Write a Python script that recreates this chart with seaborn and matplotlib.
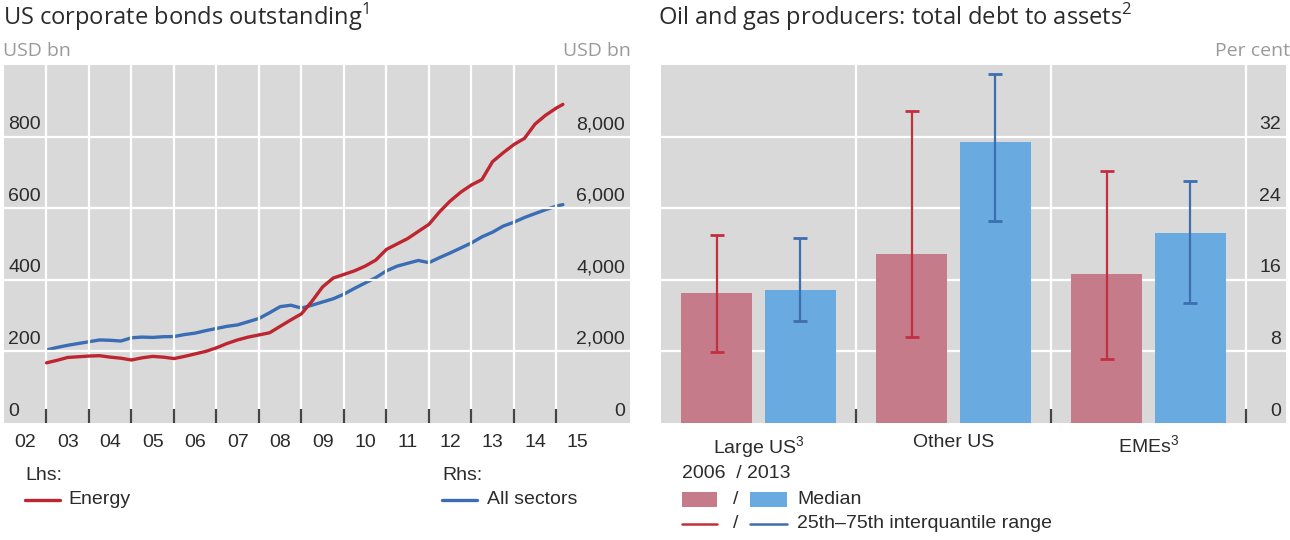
import numpy as np
import pandas as pd
import matplotlib
matplotlib.use("Agg")
import matplotlib.pyplot as plt
import matplotlib.transforms as mtransforms
from matplotlib.lines import Line2D
from matplotlib.patches import Rectangle
import seaborn as sns

sns.set_theme(style="white")
plt.rcParams["font.family"] = ["Liberation Sans", "DejaVu Sans"]

# ---------------- data ----------------
# quarterly observations, last point is the latest month
obs_dates = list(pd.date_range("2003-01-01", "2015-01-01", freq="QS").strftime("%Y-%m-%d")) + ["2015-02-25"]

energy = [168, 175, 183, 185, 187, 188, 184, 181, 176, 182, 186, 184,
          180, 186, 193, 200, 210, 222, 232, 240, 246, 252, 270, 288,
          305, 340, 380, 405, 415, 425, 438, 455, 485, 500, 515, 535,
          555, 590, 620, 645, 665, 680, 730, 755, 778, 795, 835, 860,
          880, 890]

all_sectors = [2040, 2110, 2170, 2220, 2270, 2320, 2310, 2290, 2380, 2400, 2390, 2410,
               2415, 2470, 2510, 2580, 2640, 2700, 2740, 2830, 2920, 3080, 3250, 3290,
               3210, 3290, 3380, 3470, 3600, 3760, 3910, 4060, 4250, 4380, 4460, 4540,
               4480, 4620, 4750, 4890, 5030, 5200, 5330, 5500, 5610, 5740, 5850, 5960,
               6060, 6100]

year_labels = ["02", "03", "04", "05", "06", "07", "08", "09", "10", "11", "12", "13", "14", "15"]
lhs_ticks = [0, 200, 400, 600, 800]
rhs_ticks = [0, 2000, 4000, 6000, 8000]

groups = ["Large US", "Other US", "EMEs"]
group_labels = ["Large US$^\\mathregular{3}$", "Other US", "EMEs$^\\mathregular{3}$"]
years = ["2006", "2013"]
median_2006 = [14.5, 18.9, 16.6]
median_2013 = [14.9, 31.4, 21.2]
p25_2006 = [7.9, 9.6, 7.1]
p75_2006 = [21.0, 34.9, 28.2]
p25_2013 = [11.4, 22.6, 13.4]
p75_2013 = [20.7, 39.0, 27.0]
pct_ticks = [0, 8, 16, 24, 32]

# ---------------- style ----------------
BG = "#d9d9d9"
RED = "#bd2630"
BLUE = "#3a6db5"
PINK = "#c67b8b"
LBLUE = "#69abe0"
ERR_RED = "#c23040"
ERR_BLUE = "#3d6eb0"
TXT = "#2b2b2b"
UNIT = "#9a9a9a"
TICK_FS = 14
TITLE_FONT = ["Open Sans", "DejaVu Sans"]

fig = plt.figure(figsize=(12.9, 5.4), dpi=100)
W, H = 1290, 540


def fx(px):
    return px / W


def fy(py):
    return 1 - py / H


# ---------------- left panel: bonds outstanding ----------------
axl = fig.add_axes([fx(4), fy(423), fx(630) - fx(4), fy(65) - fy(423)])
dec_year = [d.year + (d.dayofyear - 1) / 365.25 for d in pd.to_datetime(obs_dates)]
df_bonds = pd.DataFrame({"t": dec_year, "energy": energy, "all": all_sectors})

sns.lineplot(data=df_bonds, x="t", y="energy", ax=axl, color=RED, lw=2.4, zorder=4)
axl.set_xlim(2002, 2016.73)
axl.set_ylim(0, 1000)

axr2 = axl.twinx()
sns.lineplot(data=df_bonds, x="t", y="all", ax=axr2, color=BLUE, lw=2.4, zorder=3)
axr2.set_ylim(0, 10000)
axr2.set_yticks([])
axl.set_zorder(axr2.get_zorder() + 1)
axl.patch.set_visible(False)
axr2.patch.set_visible(True)
axr2.patch.set_facecolor(BG)
for a in (axl, axr2):
    for s in a.spines.values():
        s.set_visible(False)
    a.set_xlabel("")
    a.set_ylabel("")
axr2.tick_params(axis="both", length=0, labelbottom=False, labelright=False)

first = int(axl.get_xlim()[0])
axl.set_xticks(np.arange(first + 1, first + len(year_labels)))
axl.set_xticks(np.arange(len(year_labels)) + first + 0.5, minor=True)
axl.set_xticklabels([])
axl.set_xticklabels(year_labels, minor=True)
axl.tick_params(axis="x", which="major", bottom=True, direction="in", length=10, width=1.6,
                color="#444444")
axl.tick_params(axis="x", which="minor", bottom=True, length=0, pad=8, labelsize=TICK_FS,
                labelcolor=TXT)
axl.set_yticks(lhs_ticks[1:])
axl.tick_params(axis="y", length=0, labelleft=False)
axl.grid(True, which="major", color="white", lw=1.6)
axr2.grid(False)
axl.set_axisbelow(True)

lab_up = mtransforms.offset_copy(
    mtransforms.blended_transform_factory(axl.transAxes, axl.transData), fig=fig, y=12, units="dots")
for v in lhs_ticks:
    axl.text(0.0064, v, f"{v:,}", transform=lab_up, ha="left", va="center",
             fontsize=TICK_FS, color=TXT, zorder=6)
lab_up_r = mtransforms.offset_copy(
    mtransforms.blended_transform_factory(axr2.transAxes, axr2.transData), fig=fig, y=12, units="dots")
for v in rhs_ticks:
    axl.text(0.992, v, f"{v:,}", transform=lab_up_r, ha="right", va="center",
             fontsize=TICK_FS, color=TXT, zorder=6)

fig.text(fx(3), fy(17), "US corporate bonds outstanding$^\\mathregular{1}$", ha="left", va="center",
         fontsize=17, color=TXT, family=TITLE_FONT)
fig.text(fx(3), fy(51), "USD bn", ha="left", va="center", fontsize=14, color=UNIT, family=TITLE_FONT)
fig.text(fx(631), fy(51), "USD bn", ha="right", va="center", fontsize=14, color=UNIT, family=TITLE_FONT)

# legend, left panel
fig.text(fx(25), fy(476), "Lhs:", ha="left", va="center", fontsize=TICK_FS, color=TXT)
fig.add_artist(Line2D([fx(25), fx(60)], [fy(500), fy(500)], color=RED, lw=2.4))
fig.text(fx(68), fy(500), "Energy", ha="left", va="center", fontsize=TICK_FS, color=TXT)
fig.text(fx(442), fy(476), "Rhs:", ha="left", va="center", fontsize=TICK_FS, color=TXT)
fig.add_artist(Line2D([fx(442), fx(477)], [fy(500), fy(500)], color=BLUE, lw=2.4))
fig.text(fx(487), fy(500), "All sectors", ha="left", va="center", fontsize=TICK_FS, color=TXT)

# ---------------- right panel: debt to assets ----------------
axb = fig.add_axes([fx(661), fy(423), fx(1286) - fx(661), fy(65) - fy(423)])
axb.set_facecolor(BG)
df_debt = pd.DataFrame({
    "group": groups * 2,
    "year": [years[0]] * 3 + [years[1]] * 3,
    "median": median_2006 + median_2013,
})
sns.barplot(data=df_debt, x="group", y="median", hue="year", order=groups, hue_order=years,
            palette=[PINK, LBLUE], saturation=1, width=0.86, gap=0.155, errorbar=None,
            legend=False, ax=axb, zorder=3, linewidth=0, edgecolor="none")

for cont, med, lo, hi, col in zip(axb.containers,
                                  [median_2006, median_2013],
                                  [p25_2006, p25_2013],
                                  [p75_2006, p75_2013],
                                  [ERR_RED, ERR_BLUE]):
    xs = [b.get_x() + b.get_width() / 2 for b in cont]
    med = np.array(med)
    yerr = [med - np.array(lo), np.array(hi) - med]
    axb.errorbar(xs, med, yerr=yerr, fmt="none", ecolor=col, elinewidth=1.6,
                 capsize=5, capthick=2, zorder=5)

axb.set_xlim(-0.5, 2.705)
axb.set_ylim(0, 40)
axb.set_xticks(range(len(groups)))
axb.set_xticklabels(group_labels)
axb.set_xticks(np.arange(len(groups)) + 0.5, minor=True)
axb.tick_params(axis="x", which="major", bottom=True, length=0, pad=8, labelsize=TICK_FS,
                labelcolor=TXT)
axb.tick_params(axis="x", which="minor", bottom=True, direction="in", length=10, width=1.6,
                color="#444444")
axb.set_yticks(pct_ticks[1:])
axb.tick_params(axis="y", length=0, labelleft=False)
axb.grid(True, axis="y", which="major", color="white", lw=1.6)
axb.grid(True, axis="x", which="minor", color="white", lw=1.6)
axb.set_axisbelow(True)
axb.set_xlabel("")
axb.set_ylabel("")
for s in axb.spines.values():
    s.set_visible(False)

lab_up_b = mtransforms.offset_copy(
    mtransforms.blended_transform_factory(axb.transAxes, axb.transData), fig=fig, y=12, units="dots")
for v in pct_ticks:
    axb.text(0.992, v, f"{v}", transform=lab_up_b, ha="right", va="center",
             fontsize=TICK_FS, color=TXT, zorder=6)

fig.text(fx(658), fy(17), "Oil and gas producers: total debt to assets$^\\mathregular{2}$", ha="left",
         va="center", fontsize=17, color=TXT, family=TITLE_FONT)
fig.text(fx(1290), fy(51), "Per cent", ha="right", va="center", fontsize=14, color=UNIT, family=TITLE_FONT)

# legend, right panel
fig.text(fx(682), fy(474), "2006  / 2013", ha="left", va="center", fontsize=TICK_FS, color=TXT)
fig.add_artist(Rectangle((fx(682), fy(507)), fx(35), fy(492) - fy(507), color=PINK, lw=0))
fig.text(fx(733), fy(499), "/", ha="left", va="center", fontsize=TICK_FS, color=TXT)
fig.add_artist(Rectangle((fx(750), fy(507)), fx(37), fy(492) - fy(507), color=LBLUE, lw=0))
fig.text(fx(797), fy(499), "Median", ha="left", va="center", fontsize=TICK_FS, color=TXT)
fig.add_artist(Line2D([fx(682), fx(717)], [fy(524), fy(524)], color=ERR_RED, lw=1.8))
fig.text(fx(733), fy(524), "/", ha="left", va="center", fontsize=TICK_FS, color=TXT)
fig.add_artist(Line2D([fx(750), fx(787)], [fy(524), fy(524)], color=ERR_BLUE, lw=1.8))
fig.text(fx(797), fy(524), "25th\u201375th interquantile range", ha="left", va="center",
         fontsize=TICK_FS, color=TXT)

fig.savefig("out.png", dpi=100, facecolor="white")
